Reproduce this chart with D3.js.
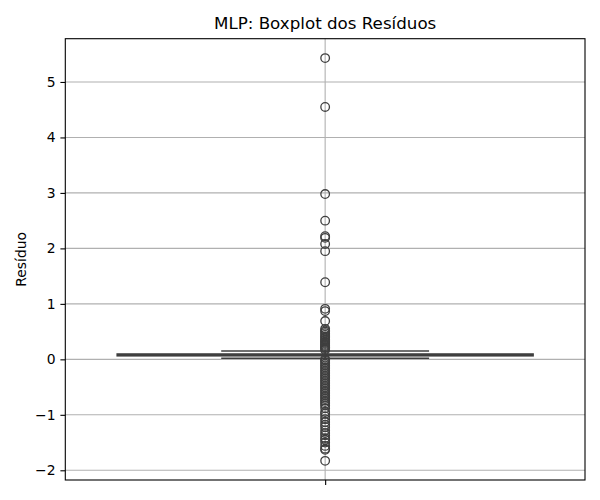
<!DOCTYPE html>
<html lang="pt">
<head>
<meta charset="UTF-8">
<title>MLP: Boxplot dos Resíduos</title>
<script src="https://d3js.org/d3.v7.min.js"></script>
<style>
  body { margin: 0; background: #fff; }
  svg { font-family: "DejaVu Sans", sans-serif; }
</style>
</head>
<body>
<svg width="600" height="500"></svg>
<script>
// Box statistics
const boxStats = { whiskerLow: 0.02, q1: 0.065, median: 0.08, q3: 0.095, whiskerHigh: 0.15 };

// Outliers (residuals beyond the whiskers)
const outliers = [
  5.43, 4.55, 2.98, 2.50, 2.22, 2.19, 2.08, 1.95, 1.39, 0.91, 0.87, 0.69,
  0.55, 0.52, 0.50, 0.47, 0.44, 0.41, 0.39, 0.36, 0.34, 0.32, 0.30, 0.28,
  0.26, 0.24, 0.22, 0.21, 0.19, 0.17,
  0.00, -0.02, -0.05, -0.08, -0.11, -0.14, -0.17, -0.20, -0.23, -0.26,
  -0.29, -0.32, -0.35, -0.38, -0.41, -0.44, -0.47, -0.50, -0.53, -0.56,
  -0.59, -0.62, -0.65, -0.68, -0.71, -0.74, -0.77, -0.80, -0.83, -0.88,
  -0.95, -0.98, -1.03, -1.08, -1.13, -1.18, -1.22, -1.28, -1.33, -1.37,
  -1.42, -1.45, -1.50, -1.56, -1.61, -1.63, -1.83
];

const yTicks = [-2, -1, 0, 1, 2, 3, 4, 5];

const margin = { top: 38.7, right: 15, bottom: 20, left: 65.3 },
      width = 585 - margin.left,
      height = 480 - margin.top;

const svg = d3.select("svg");
const g = svg.append("g")
    .attr("transform", `translate(${margin.left},${margin.top})`);

const x = d3.scaleLinear().domain([-0.5, 0.5]).range([0, width]);
const y = d3.scaleLinear().domain([-2.175, 5.78]).range([height, 0]);

const lineColor = "#3f3f3f";
const gridColor = "#b0b0b0";

// Grid
g.selectAll(".hgrid")
  .data(yTicks)
  .enter().append("line")
  .attr("x1", 0).attr("x2", width)
  .attr("y1", d => y(d)).attr("y2", d => y(d))
  .attr("stroke", gridColor).attr("stroke-width", 1.1);

g.append("line")
  .attr("x1", x(0)).attr("x2", x(0))
  .attr("y1", 0).attr("y2", height)
  .attr("stroke", gridColor).attr("stroke-width", 1.1);

// Whiskers
const boxW = 0.8, capW = 0.4;
g.append("line")
  .attr("x1", x(0)).attr("x2", x(0))
  .attr("y1", y(boxStats.whiskerLow)).attr("y2", y(boxStats.q1))
  .attr("stroke", lineColor).attr("stroke-width", 1.7);
g.append("line")
  .attr("x1", x(0)).attr("x2", x(0))
  .attr("y1", y(boxStats.q3)).attr("y2", y(boxStats.whiskerHigh))
  .attr("stroke", lineColor).attr("stroke-width", 1.7);

// Caps
g.selectAll(".cap")
  .data([boxStats.whiskerLow, boxStats.whiskerHigh])
  .enter().append("line")
  .attr("x1", x(-capW / 2)).attr("x2", x(capW / 2))
  .attr("y1", d => y(d)).attr("y2", d => y(d))
  .attr("stroke", lineColor).attr("stroke-width", 1.7);

// Box
g.append("rect")
  .attr("x", x(-boxW / 2))
  .attr("width", x(boxW / 2) - x(-boxW / 2))
  .attr("y", y(boxStats.q3))
  .attr("height", y(boxStats.q1) - y(boxStats.q3))
  .attr("fill", "#808080")
  .attr("stroke", lineColor).attr("stroke-width", 1.7);

// Median
g.append("line")
  .attr("x1", x(-boxW / 2)).attr("x2", x(boxW / 2))
  .attr("y1", y(boxStats.median)).attr("y2", y(boxStats.median))
  .attr("stroke", lineColor).attr("stroke-width", 1.7);

// Outliers
g.selectAll(".flier")
  .data(outliers)
  .enter().append("circle")
  .attr("cx", x(0))
  .attr("cy", d => y(d))
  .attr("r", 4.3)
  .attr("fill", "none")
  .attr("stroke", lineColor)
  .attr("stroke-width", 1.3);

// Axes
const yAxis = g.append("g")
  .call(d3.axisLeft(y).tickValues(yTicks).tickSize(4.9).tickPadding(4.9)
        .tickFormat(d => d3.format("d")(d).replace("-", "\u2212")));
yAxis.select(".domain").remove();
yAxis.selectAll("line").attr("stroke", "#000").attr("stroke-width", 1.1);
yAxis.selectAll("text").attr("font-size", "13.9px").attr("fill", "#000")
  .attr("font-family", "DejaVu Sans");

const xAxis = g.append("g")
  .attr("transform", `translate(0,${height})`)
  .call(d3.axisBottom(x).tickValues([0]).tickSize(4.9).tickFormat(""));
xAxis.select(".domain").remove();
xAxis.selectAll("line").attr("stroke", "#000").attr("stroke-width", 1.1);

// Frame
g.append("rect")
  .attr("width", width).attr("height", height)
  .attr("fill", "none").attr("stroke", "#000").attr("stroke-width", 1.1);

// Title
svg.append("text")
  .attr("x", margin.left + width / 2)
  .attr("y", 29)
  .attr("text-anchor", "middle")
  .attr("font-size", "16.7px")
  .attr("fill", "#000")
  .text("MLP: Boxplot dos Resíduos");

// Y label
svg.append("text")
  .attr("transform", `translate(26,${margin.top + height / 2}) rotate(-90)`)
  .attr("text-anchor", "middle")
  .attr("font-size", "13.9px")
  .attr("fill", "#000")
  .text("Resíduo");
</script>
</body>
</html>
